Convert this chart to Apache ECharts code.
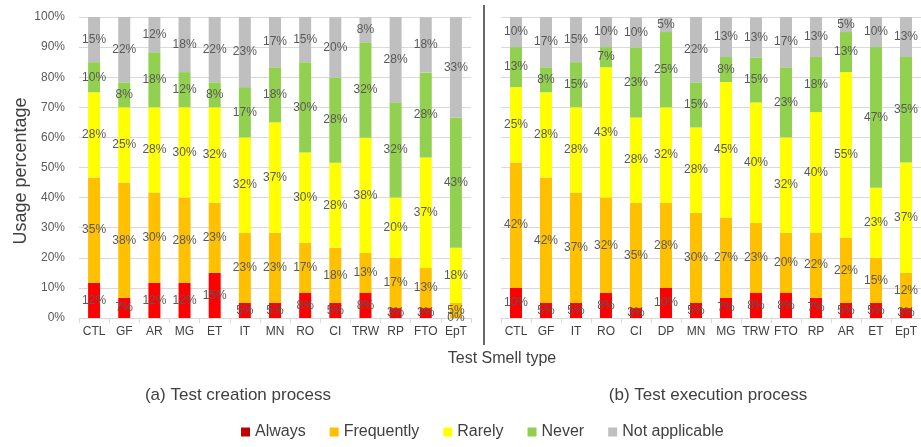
<!DOCTYPE html>
<html>
<head>
<meta charset="utf-8">
<script src="https://cdn.jsdelivr.net/npm/echarts@6/dist/echarts.min.js"></script>
<style>
  html, body { margin: 0; padding: 0; background: #fff; }
  #chart { width: 921px; height: 447px; }
</style>
</head>
<body>
<div id="chart"></div>
<script>
// (a) Test creation process -- shares of respondents, labels are rounded
const creationCats = ["CTL", "GF", "AR", "MG", "ET", "IT", "MN", "RO", "CI", "TRW", "RP", "FTO", "EpT"];
const creationAlways     = [11.7, 6.7, 11.7, 11.7, 15, 5, 5, 8.3, 5, 8.3, 3.3, 3.3, 0];
const creationFrequently = [35, 38.3, 30, 28.3, 23.3, 23.3, 23.3, 16.7, 18.3, 13.3, 16.7, 13.3, 5];
const creationRarely     = [28.3, 25, 28.3, 30, 31.7, 31.7, 36.7, 30, 28.3, 38.3, 20, 36.7, 18.3];
const creationNever      = [10, 8.3, 18.3, 11.7, 8.3, 16.7, 18.3, 30, 28.3, 31.7, 31.7, 28.3, 43.3];
const creationNA         = [15, 21.7, 11.7, 18.3, 21.7, 23.3, 16.7, 15, 20, 8.3, 28.3, 18.3, 33.3];

// (b) Test execution process
const executionCats = ["CTL", "GF", "IT", "RO", "CI", "DP", "MN", "MG", "TRW", "FTO", "RP", "AR", "ET", "EpT"];
const executionAlways     = [10, 5, 5, 8.3, 3.3, 10, 5, 6.7, 8.3, 8.3, 6.7, 5, 5, 3.3];
const executionFrequently = [41.7, 41.7, 36.7, 31.7, 35, 28.3, 30, 26.7, 23.3, 20, 21.7, 21.7, 15, 11.7];
const executionRarely     = [25, 28.3, 28.3, 43.3, 28.3, 31.7, 28.3, 45, 40, 31.7, 40, 55, 23.3, 36.7];
const executionNever      = [13.3, 8.3, 15, 6.7, 23.3, 25, 15, 8.3, 15, 23.3, 18.3, 13.3, 46.7, 35];
const executionNA         = [10, 16.7, 15, 10, 10, 5, 21.7, 13.3, 13.3, 16.7, 13.3, 5, 10, 13.3];

const seriesNames = ["Always", "Frequently", "Rarely", "Never", "Not applicable"];
const barColors = ["#ff0000", "#ffc000", "#ffff00", "#92d050", "#bfbfbf"];
const legendColors = ["#c00000", "#ffc000", "#ffff00", "#92d050", "#bfbfbf"];

const FONT = "'Liberation Sans', Arial, sans-serif";
const TEXT = "#595959";

const chart = echarts.init(document.getElementById("chart"));

function makeSeries(values, idx, stackName) {
  return values.map((data, i) => ({
    name: seriesNames[i],
    type: "bar",
    stack: stackName,
    xAxisIndex: idx,
    yAxisIndex: idx,
    barWidth: 12,
    data: data,
    itemStyle: { color: barColors[i] },
    label: {
      show: true,
      position: "inside",
      formatter: (p) => Math.round(p.value) + "%",
      color: TEXT,
      fontFamily: FONT,
      fontSize: 12
    },
    emphasis: { disabled: true }
  }));
}

const xAxisBase = {
  type: "category",
  axisLine: { lineStyle: { color: "#d9d9d9" } },
  axisTick: { show: true, length: 5, lineStyle: { color: "#d9d9d9" } },
  axisLabel: { color: "#404040", fontFamily: FONT, fontSize: 12, margin: 8, interval: 0 }
};

const yAxisBase = {
  type: "value",
  min: 0,
  max: 100,
  interval: 10,
  splitLine: { lineStyle: { color: "#d9d9d9" } },
  axisLine: { show: false },
  axisTick: { show: false }
};

chart.setOption({
  animation: false,
  textStyle: { fontFamily: FONT },
  grid: [
    { left: 79, top: 17, width: 392, height: 301 },
    { left: 501, top: 17, width: 422, height: 301 }
  ],
  xAxis: [
    Object.assign({ gridIndex: 0, data: creationCats }, xAxisBase),
    Object.assign({ gridIndex: 1, data: executionCats }, xAxisBase)
  ],
  yAxis: [
    Object.assign({
      gridIndex: 0,
      axisLabel: { formatter: "{value}%", color: TEXT, fontFamily: FONT, fontSize: 12, margin: 14 }
    }, yAxisBase),
    Object.assign({ gridIndex: 1, axisLabel: { show: false } }, yAxisBase)
  ],
  legend: {
    top: 419,
    left: 236,
    itemWidth: 9,
    itemHeight: 9,
    itemGap: 24,
    icon: "rect",
    textStyle: { color: "#404040", fontFamily: FONT, fontSize: 16 },
    data: seriesNames.map((n, i) => ({ name: n, itemStyle: { color: legendColors[i] } }))
  },
  graphic: [
    {
      type: "line",
      shape: { x1: 484, y1: 5, x2: 484, y2: 345 },
      style: { stroke: "#000", lineWidth: 1.2 }
    },
    {
      type: "text",
      x: 21, y: 171, rotation: Math.PI / 2,
      style: { text: "Usage percentage", fill: "#404040", font: "18px " + FONT, align: "center", verticalAlign: "middle" }
    },
    {
      type: "text",
      x: 502, y: 359,
      style: { text: "Test Smell type", fill: "#404040", font: "16px " + FONT, align: "center", verticalAlign: "middle" }
    },
    {
      type: "text",
      x: 238, y: 395,
      style: { text: "(a) Test creation process", fill: "#404040", font: "17px " + FONT, align: "center", verticalAlign: "middle" }
    },
    {
      type: "text",
      x: 708, y: 395,
      style: { text: "(b) Test execution process", fill: "#404040", font: "17px " + FONT, align: "center", verticalAlign: "middle" }
    }
  ],
  series: [
    ...makeSeries([creationAlways, creationFrequently, creationRarely, creationNever, creationNA], 0, "a"),
    ...makeSeries([executionAlways, executionFrequently, executionRarely, executionNever, executionNA], 1, "b")
  ]
});
</script>
</body>
</html>
